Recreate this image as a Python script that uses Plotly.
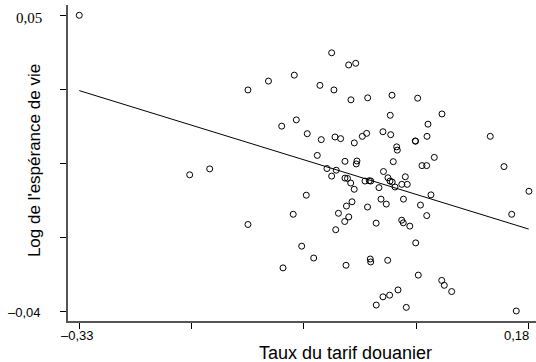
import plotly.graph_objects as go

# Tariff rate (x) vs log life expectancy (y)
x_vals = [-0.3300, -0.2047, -0.1820, -0.1386, -0.1386, -0.1153, -0.0860, -0.1003, -0.0837, -0.0713,
          -0.0569, -0.0436, -0.0243, -0.0163, -0.0410, -0.0217, -0.0027, 0.0249, 0.0540, 0.0229,
          0.0816, 0.0657, -0.0554, -0.0398, -0.0334, -0.0179, -0.0088, -0.0039, 0.0146, 0.0234,
          0.0646, 0.0513, 0.0516, 0.1364, 0.0302, 0.0309, -0.0599, -0.0285, -0.0149, -0.0157,
          0.0263, 0.0729, 0.0589, 0.0642, 0.1520, -0.0489, -0.0384, -0.0436, -0.0285, -0.0256,
          -0.0220, -0.0180, -0.0058, -0.0009, 0.0008, 0.0152, 0.0203, 0.0226, 0.0251, 0.0400,
          0.0360, 0.0422, 0.0101, 0.0283, 0.0691, 0.1803, -0.0724, -0.0205, -0.0268, -0.0029,
          0.0124, 0.0184, 0.0379, 0.0572, -0.0872, -0.0359, -0.0242, -0.0288, -0.0390, 0.0643,
          0.1607, 0.0069, 0.0359, 0.0377, 0.0451, -0.0776, -0.0640, -0.0988, -0.0273, 0.0002,
          0.0007, 0.0200, 0.0518, 0.0547, 0.0813, 0.0842, 0.0926, 0.0317, 0.0146, 0.0222,
          0.0070, 0.0411, 0.1659]
y_vals = [0.0500, 0.0015, 0.0033, 0.0273, -0.0136, 0.0300, 0.0318, 0.0163, 0.0182, 0.0140,
          0.0287, 0.0386, 0.0349, 0.0354, 0.0273, 0.0243, 0.0249, 0.0257, 0.0248, 0.0196,
          0.0200, 0.0169, 0.0122, 0.0130, 0.0125, 0.0112, 0.0132, 0.0141, 0.0146, 0.0137,
          0.0132, 0.0118, 0.0117, 0.0132, 0.0100, 0.0090, 0.0074, 0.0056, 0.0057, 0.0048,
          0.0055, 0.0068, 0.0043, 0.0043, 0.0040, 0.0034, 0.0029, 0.0011, 0.0005, 0.0004,
          -0.0010, -0.0029, -0.0004, -0.0003, -0.0004, 0.0025, 0.0006, -0.0004, -0.0007, 0.0009,
          -0.0014, -0.0014, -0.0024, -0.0022, -0.0046, -0.0035, -0.0047, -0.0067, -0.0080, -0.0083,
          -0.0059, -0.0074, -0.0059, -0.0077, -0.0105, -0.0102, -0.0113, -0.0127, -0.0152, -0.0109,
          -0.0105, -0.0132, -0.0123, -0.0131, -0.0141, -0.0202, -0.0238, -0.0268, -0.0260, -0.0241,
          -0.0250, -0.0245, -0.0192, -0.0290, -0.0306, -0.0321, -0.0340, -0.0335, -0.0356, -0.0351,
          -0.0381, -0.0388, -0.0399]

fit_x = [-0.33, 0.18]
fit_y = [0.0271, -0.0150]

x_ticks = [-0.33, -0.2025, -0.075, 0.0525, 0.18]
y_ticks = [-0.04, -0.0175, 0.005, 0.0275, 0.05]
x_label_vals = [-0.33, 0.18]
x_label_text = ["–0,33", "0,18"]
y_label_vals = [0.05, -0.04]
y_label_text = ["0,05", "–0,04"]

x_title = "Taux du tarif douanier"
y_title = "Log de l'espérance de vie"

fig = go.Figure()
fig.add_trace(go.Scatter(x=fit_x, y=fit_y, mode="lines",
                         line=dict(color="black", width=1), hoverinfo="skip"))
fig.add_trace(go.Scatter(x=x_vals, y=y_vals, mode="markers",
                         marker=dict(symbol="circle-open", size=6, color="black",
                                     line=dict(width=1, color="black"))))

sans = "Liberation Sans, Arial, sans-serif"
serif = "Liberation Serif"

annotations = []
# x tick labels
annotations.append(dict(x=x_label_vals[0], y=0, xref="x", yref="paper", text=x_label_text[0],
                        showarrow=False, xanchor="center", yanchor="top", xshift=-2, yshift=-5,
                        font=dict(family=sans, size=13, color="black")))
annotations.append(dict(x=x_label_vals[1], y=0, xref="x", yref="paper", text=x_label_text[1],
                        showarrow=False, xanchor="right", yanchor="top", xshift=2, yshift=-5,
                        font=dict(family=sans, size=13, color="black")))
# y tick labels
annotations.append(dict(x=0, y=y_label_vals[0], xref="paper", yref="y", text=y_label_text[0],
                        showarrow=False, xanchor="right", yanchor="middle", xshift=-24, yshift=-3,
                        font=dict(family=serif, size=15, color="black")))
annotations.append(dict(x=0, y=y_label_vals[1], xref="paper", yref="y", text=y_label_text[1],
                        showarrow=False, xanchor="right", yanchor="middle", xshift=-25, yshift=-1,
                        font=dict(family=sans, size=13, color="black")))
# axis titles
annotations.append(dict(x=0.592, y=0, xref="paper", yref="paper", text=x_title,
                        showarrow=False, xanchor="center", yanchor="top", yshift=-20,
                        font=dict(family=sans, size=18, color="black")))
annotations.append(dict(x=0, y=0.506, xref="paper", yref="paper", text=y_title, textangle=-90,
                        showarrow=False, xanchor="center", yanchor="middle", xshift=-34,
                        font=dict(family=sans, size=17, color="black")))

fig.update_layout(
    width=536, height=362,
    margin=dict(l=68, r=0, t=5, b=41, pad=0),
    paper_bgcolor="white", plot_bgcolor="white",
    showlegend=False,
    annotations=annotations,
    xaxis=dict(range=[-0.3428, 0.1883], tickvals=x_ticks, showticklabels=False,
               ticks="outside", ticklen=6, tickwidth=1, tickcolor="black",
               showline=True, linecolor="#555", linewidth=1.5,
               showgrid=False, zeroline=False),
    yaxis=dict(range=[-0.04295, 0.05313], tickvals=y_ticks, showticklabels=False,
               ticks="outside", ticklen=6, tickwidth=1, tickcolor="black",
               showline=True, linecolor="#555", linewidth=1.5,
               showgrid=False, zeroline=False),
)

fig.write_html("out.html")
